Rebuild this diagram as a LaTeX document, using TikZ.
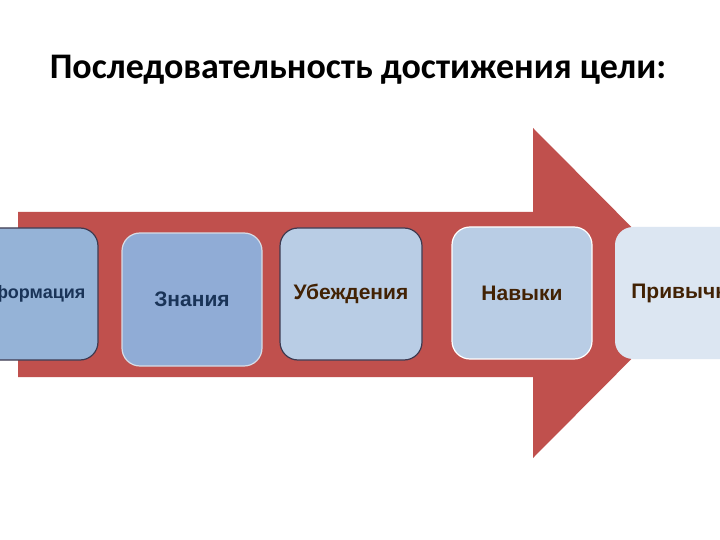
\documentclass[tikz,border=0pt]{standalone}
\usepackage{fontspec}
\setmainfont{Liberation Sans}
\newfontfamily\titlefont{Carlito}
\definecolor{arrowred}{HTML}{C0504D}
\definecolor{boxblue}{HTML}{95B3D7}
\definecolor{boxblueB}{HTML}{90ACD6}
\definecolor{boxmid}{HTML}{B9CDE5}
\definecolor{boxlight}{HTML}{DCE6F2}
\definecolor{txtblue}{HTML}{1A3458}
\definecolor{txtbrown}{HTML}{422204}
\definecolor{darkedge}{HTML}{3E3A50}
\definecolor{lightedge}{HTML}{D6DCE6}
\tikzset{
  titletext/.style={font=\titlefont\bfseries\fontsize{36}{40}\selectfont, text=black},
  stagebox/.style={rounded corners=18pt, minimum width=140pt, minimum height=132pt, inner sep=0pt,
    font=\bfseries\fontsize{21}{24}\selectfont, line width=1.2pt},
}
\begin{document}
\begin{tikzpicture}[x=1pt,y=-1pt]
\useasboundingbox (0,0) rectangle (720,540);
\clip (0,0) rectangle (720,540);
\fill[white] (0,0) rectangle (720,540);
\node[titletext] (title) at (358,70) {Последовательность достижения цели:};
\fill[arrowred] (18,212) -- (533,212) -- (533,128) -- (697,293) -- (533,458) -- (533,377) -- (18,377) -- cycle;
\node[stagebox, fill=boxblue, draw=darkedge, text=txtblue, minimum width=142pt, font=\bfseries\fontsize{18}{22}\selectfont] (b1) at (27,294) {Информация};
\node[stagebox, fill=boxblueB, draw=lightedge, text=txtblue, minimum height=133pt] (b2) at (192,299.5) {Знания};
\node[stagebox, fill=boxmid, draw=darkedge, text=txtbrown, minimum width=142pt] (b3) at (351,294) {Убеждения};
\node[stagebox, fill=boxmid, draw=white, text=txtbrown] (b4) at (522,293) {Навыки};
\node[stagebox, fill=boxlight, draw=none, text=txtbrown] (b5) at (685,293) {Привычки};
\end{tikzpicture}
\end{document}
